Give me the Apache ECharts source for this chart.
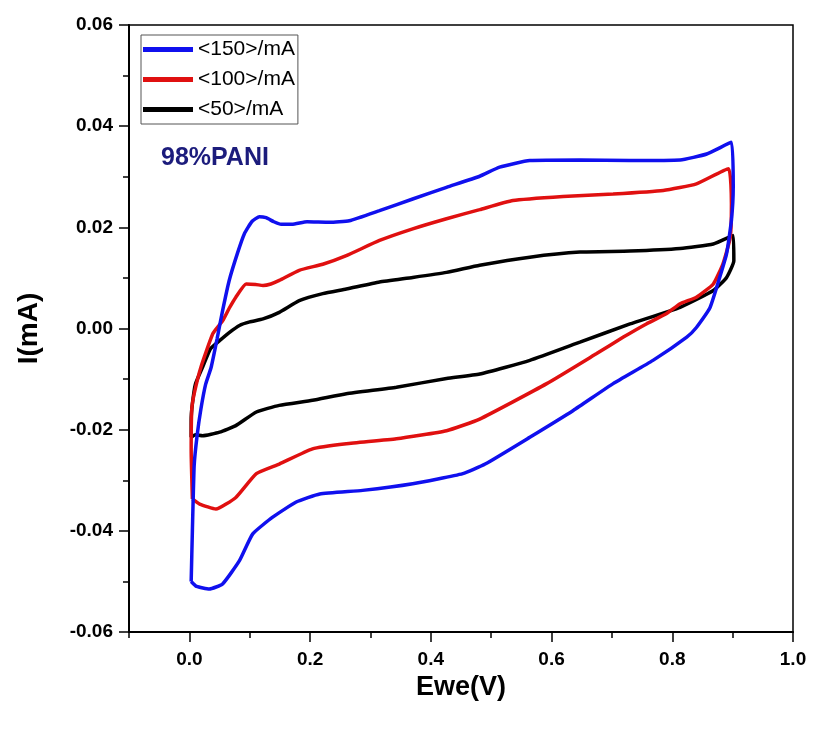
<!DOCTYPE html>
<html>
<head>
<meta charset="utf-8">
<script src="https://cdn.jsdelivr.net/npm/echarts@6/dist/echarts.min.js"></script>
<style>html,body{margin:0;padding:0;background:#fff}#c{width:813px;height:730px}</style>
</head>
<body>
<div id="c"></div>
<script>
// ---- data ----
const seriesNames = ['<150>/mA', '<100>/mA', '<50>/mA'];
const xTickLabels = [0.0, 0.2, 0.4, 0.6, 0.8, 1.0];
const xMinorTicks = [-0.1, 0.1, 0.3, 0.5, 0.7, 0.9];

const ewe150 = [0.003, 0.005, 0.008, 0.013, 0.019, 0.027, 0.036, 0.046, 0.055, 0.066, 0.080, 0.091, 0.104, 0.116, 0.127, 0.140, 0.152, 0.170, 0.195, 0.232, 0.265, 0.315, 0.370, 0.426, 0.481, 0.514, 0.564, 0.647, 0.730, 0.813, 0.857, 0.898, 0.901, 0.898, 0.890, 0.877, 0.862, 0.840, 0.824, 0.768, 0.702, 0.636, 0.564, 0.490, 0.453, 0.370, 0.287, 0.216, 0.177, 0.138, 0.105, 0.083, 0.055, 0.033, 0.012, 0.003];
const i150   = [-0.0500, -0.0400, -0.0270, -0.0210, -0.0160, -0.0110, -0.0077, -0.0020, 0.0035, 0.0095, 0.0150, 0.0187, 0.0212, 0.0221, 0.0219, 0.0211, 0.0206, 0.0206, 0.0211, 0.0210, 0.0213, 0.0233, 0.0256, 0.0279, 0.0301, 0.0319, 0.0332, 0.0333, 0.0332, 0.0333, 0.0345, 0.0368, 0.0280, 0.0214, 0.0148, 0.0095, 0.0040, 0.0002, -0.0017, -0.0063, -0.0109, -0.0162, -0.0215, -0.0268, -0.0287, -0.0307, -0.0320, -0.0327, -0.0343, -0.0373, -0.0406, -0.0459, -0.0505, -0.0515, -0.0510, -0.0500];

const ewe100 = [0.005, 0.003, 0.004, 0.008, 0.019, 0.039, 0.055, 0.066, 0.077, 0.094, 0.110, 0.122, 0.135, 0.149, 0.182, 0.221, 0.260, 0.315, 0.370, 0.426, 0.481, 0.536, 0.619, 0.702, 0.785, 0.840, 0.893, 0.898, 0.896, 0.884, 0.868, 0.840, 0.813, 0.790, 0.757, 0.719, 0.674, 0.592, 0.481, 0.426, 0.343, 0.260, 0.204, 0.149, 0.111, 0.077, 0.044, 0.017, 0.005];
const i100   = [-0.0337, -0.0240, -0.0160, -0.0129, -0.0077, -0.0010, 0.0015, 0.0040, 0.0062, 0.0088, 0.0087, 0.0085, 0.0088, 0.0095, 0.0115, 0.0127, 0.0144, 0.0174, 0.0197, 0.0217, 0.0235, 0.0253, 0.0261, 0.0266, 0.0273, 0.0286, 0.0316, 0.0246, 0.0180, 0.0128, 0.0088, 0.0062, 0.0049, 0.0029, 0.0009, -0.0017, -0.0050, -0.0109, -0.0179, -0.0202, -0.0218, -0.0228, -0.0238, -0.0268, -0.0287, -0.0334, -0.0357, -0.0347, -0.0337];

const ewe50 = [0.003, 0.003, 0.005, 0.010, 0.022, 0.035, 0.050, 0.066, 0.083, 0.100, 0.122, 0.149, 0.182, 0.221, 0.260, 0.315, 0.370, 0.426, 0.481, 0.564, 0.647, 0.730, 0.813, 0.868, 0.901, 0.902, 0.890, 0.868, 0.813, 0.730, 0.647, 0.564, 0.481, 0.426, 0.343, 0.260, 0.204, 0.149, 0.111, 0.077, 0.050, 0.022, 0.010, 0.003];
const i50   = [-0.0215, -0.0180, -0.0149, -0.0110, -0.0076, -0.0040, -0.0024, -0.0008, 0.0006, 0.0013, 0.0019, 0.0032, 0.0055, 0.0069, 0.0078, 0.0092, 0.0101, 0.0111, 0.0125, 0.0141, 0.0151, 0.0153, 0.0158, 0.0167, 0.0184, 0.0134, 0.0101, 0.0075, 0.0042, 0.0009, -0.0027, -0.0063, -0.0090, -0.0099, -0.0116, -0.0129, -0.0142, -0.0152, -0.0165, -0.0192, -0.0205, -0.0212, -0.0210, -0.0215];

// ---- chart ----
const FONT = '"Liberation Sans", Arial, sans-serif';
const pairs = (xs, ys) => xs.map((x, k) => [x, ys[k]]);
const colors = ['#1010ee', '#e01010', '#000000'];
const dataSets = [pairs(ewe150, i150), pairs(ewe100, i100), pairs(ewe50, i50)];

const chart = echarts.init(document.getElementById('c'), null, {renderer: 'canvas'});
chart.setOption({
  animation: false,
  backgroundColor: '#fff',
  color: colors,
  grid: {left: 129, right: 20, top: 25, bottom: 98, show: true, borderColor: '#000', borderWidth: 1.5, backgroundColor: 'transparent'},
  graphic: [{
    type: 'text', left: 161, top: 146,
    style: {text: '98%PANI', fontSize: 25, fontWeight: 'bold', fontFamily: FONT, fill: '#1c1c7c'}
  }],
  legend: {
    left: 141, top: 35, orient: 'vertical',
    padding: [4, 3, 4, 2], itemGap: 9, itemWidth: 50, itemHeight: 5, icon: 'rect',
    borderColor: '#555', borderWidth: 1,
    textStyle: {fontSize: 21, color: '#000', fontFamily: FONT},
    data: seriesNames
  },
  xAxis: [{
    type: 'value', min: -0.1, max: 1.0,
    name: 'Ewe(V)', nameLocation: 'middle', nameGap: 40,
    nameTextStyle: {fontSize: 27, fontWeight: 'bold', color: '#000', fontFamily: FONT},
    axisLine: {show: true, onZero: false, lineStyle: {color: '#000', width: 2}},
    axisTick: {show: true, inside: false, length: 10, customValues: xTickLabels, lineStyle: {color: '#000', width: 1.5}},
    axisLabel: {customValues: xTickLabels, margin: 18, fontSize: 19, fontWeight: 'bold', color: '#000', fontFamily: FONT,
      formatter: v => Number(v).toFixed(1)},
    splitLine: {show: false}
  }, {
    type: 'value', min: -0.1, max: 1.0, position: 'bottom',
    axisLine: {show: false, onZero: false},
    axisTick: {show: true, inside: false, length: 6, customValues: xMinorTicks, lineStyle: {color: '#000', width: 1.5}},
    axisLabel: {show: false},
    splitLine: {show: false}
  }],
  yAxis: {
    type: 'value', min: -0.06, max: 0.06, interval: 0.02,
    name: 'I(mA)', nameLocation: 'middle', nameGap: 86,
    nameTextStyle: {fontSize: 28, fontWeight: 'bold', color: '#000', fontFamily: FONT},
    axisLine: {show: true, onZero: false, lineStyle: {color: '#000', width: 2}},
    axisTick: {show: true, inside: false, length: 10, lineStyle: {color: '#000', width: 1.5}},
    minorTick: {show: true, splitNumber: 2, length: 6, lineStyle: {color: '#000', width: 1.5}},
    axisLabel: {margin: 16, fontSize: 19, fontWeight: 'bold', color: '#000', fontFamily: FONT,
      formatter: v => Number(v).toFixed(2)},
    splitLine: {show: false}
  },
  series: seriesNames.map((n, k) => ({
    name: n, type: 'line', xAxisIndex: 0, data: dataSets[k],
    showSymbol: false, smooth: 0.15,
    lineStyle: {width: 3.5, color: colors[k]},
    z: 3 - k
  }))
});
</script>
</body>
</html>
